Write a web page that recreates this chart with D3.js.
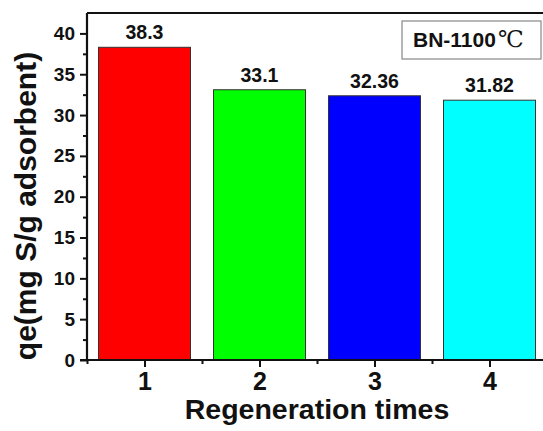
<!DOCTYPE html>
<html><head><meta charset="utf-8">
<script src="https://cdn.jsdelivr.net/npm/d3@7"></script>
<style>
html,body{margin:0;padding:0;background:#fff;overflow:hidden}
svg{display:block}
text{font-family:Arial,"Liberation Sans",sans-serif;font-weight:bold;fill:#111}
</style></head>
<body>
<svg id="c" width="543" height="431"></svg>
<script>
const categories = ["1","2","3","4"];
const values = [38.3, 33.1, 32.36, 31.82];
const valueLabels = ["38.3","33.1","32.36","31.82"];
const colors = ["#ff0000","#00ff00","#0000ff","#00ffff"];
const yTicks = [0,5,10,15,20,25,30,35,40];
const yMinor = [2.5,7.5,12.5,17.5,22.5,27.5,32.5,37.5];
const xMinor = [0.5,1.5,2.5,3.5];
const legendText = "BN-1100";

const svg = d3.select("#c");
const L = 87, R = 547, T = 13, B = 360;
const x = d3.scaleLinear().domain([0.5,4.5]).range([L,R]);
const y = d3.scaleLinear().domain([0,42.5]).range([B,T]);
const bw = (x(2)-x(1))*0.8;

// bars
svg.selectAll("rect.bar").data(values).enter().append("rect")
  .attr("class","bar")
  .attr("x",(d,i)=>x(i+1)-bw/2)
  .attr("y",d=>y(d))
  .attr("width",bw)
  .attr("height",d=>y(0)-y(d))
  .attr("fill",(d,i)=>colors[i])
  .attr("stroke","#333").attr("stroke-width",1);

// value labels
svg.selectAll("text.val").data(values).enter().append("text")
  .attr("class","val")
  .attr("x",(d,i)=>x(i+1))
  .attr("y",d=>y(d)-8)
  .attr("text-anchor","middle")
  .attr("font-size",19.5)
  .text((d,i)=>valueLabels[i]);

// y axis
const yAxis = d3.axisLeft(y).tickValues(yTicks).tickSize(7).tickPadding(5).tickFormat(d3.format("d"));
const gy = svg.append("g").attr("transform",`translate(${L},0)`).call(yAxis);
gy.select(".domain").remove();
gy.selectAll(".tick line").attr("stroke","#111").attr("stroke-width",2);
gy.selectAll(".tick text").attr("font-size",19).attr("fill","#111")
  .attr("font-family","Arial, 'Liberation Sans', sans-serif").attr("font-weight","bold");
const gyMinor = d3.axisLeft(y).tickValues(yMinor).tickSize(4).tickFormat("");
const gym = svg.append("g").attr("transform",`translate(${L},0)`).call(gyMinor);
gym.select(".domain").remove();
gym.selectAll(".tick line").attr("stroke","#111").attr("stroke-width",2);

// x axis
const xAxis = d3.axisBottom(x).tickValues([1,2,3,4]).tickSize(7).tickPadding(4)
  .tickFormat((d,i)=>categories[i]);
const gx = svg.append("g").attr("transform",`translate(0,${B})`).call(xAxis);
gx.select(".domain").remove();
gx.selectAll(".tick line").attr("stroke","#111").attr("stroke-width",2);
gx.selectAll(".tick text").attr("font-size",25).attr("fill","#111")
  .attr("dy",null).attr("y",30)
  .attr("font-family","Arial, 'Liberation Sans', sans-serif").attr("font-weight","bold");
const gxm = svg.append("g").attr("transform",`translate(0,${B})`)
  .call(d3.axisBottom(x).tickValues(xMinor).tickSize(4).tickFormat(""));
gxm.select(".domain").remove();
gxm.selectAll(".tick line").attr("stroke","#111").attr("stroke-width",2);

// frame
svg.append("line").attr("x1",L-7).attr("x2",R).attr("y1",B).attr("y2",B).attr("stroke","#111").attr("stroke-width",2.2);
svg.append("line").attr("x1",L).attr("x2",L).attr("y1",T).attr("y2",B+1).attr("stroke","#111").attr("stroke-width",2.2);
svg.append("line").attr("x1",L).attr("x2",R).attr("y1",T).attr("y2",T).attr("stroke","#111").attr("stroke-width",2.2);
svg.append("line").attr("x1",R).attr("x2",R).attr("y1",T).attr("y2",B).attr("stroke","#111").attr("stroke-width",2.2);

// legend box
svg.append("rect").attr("x",402).attr("y",21).attr("width",139).attr("height",38)
  .attr("fill","#fff").attr("stroke","#888").attr("stroke-width",1.2);
const lt = svg.append("text").attr("x",413).attr("y",47).attr("font-size",21);
lt.append("tspan").text(legendText);
lt.append("tspan").attr("font-weight","normal").attr("font-family","'DejaVu Serif',serif").attr("font-size",23).attr("dx",2).text("℃");

// axis titles
svg.append("text").attr("x",(L+R)/2).attr("y",419).attr("text-anchor","middle")
  .attr("font-size",28.5).text("Regeneration times");
svg.append("text").attr("transform","translate(36,206) rotate(-90)").attr("text-anchor","middle")
  .attr("font-size",30).text("qe(mg S/g adsorbent)");
</script>
</body></html>
